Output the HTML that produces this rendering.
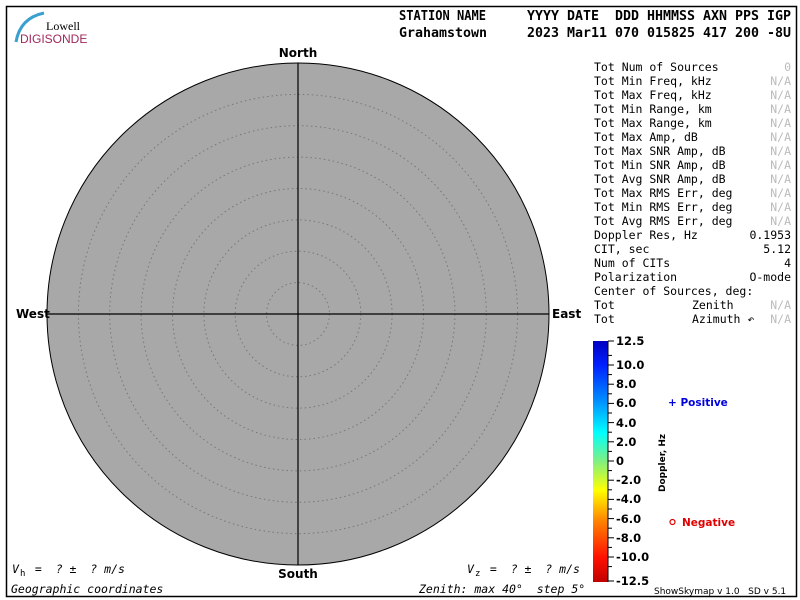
<!DOCTYPE html>
<html><head><meta charset="utf-8"><style>
body{margin:0;background:#fff}
svg{display:block}
text{white-space:pre}
.m{font-family:"DejaVu Sans Mono","Liberation Mono",monospace}
.b{font-family:"DejaVu Sans","Liberation Sans",sans-serif;font-weight:bold}
</style></head><body>
<svg width="800" height="600" viewBox="0 0 800 600" xmlns="http://www.w3.org/2000/svg" xml:space="preserve">
<defs>
<linearGradient id="cb" x1="0" y1="1" x2="0" y2="0">
<stop offset="0" stop-color="#c00000"/>
<stop offset="0.1" stop-color="#ff1000"/>
<stop offset="0.25" stop-color="#ff8000"/>
<stop offset="0.38" stop-color="#ffff00"/>
<stop offset="0.5" stop-color="#80f080"/>
<stop offset="0.62" stop-color="#00ffff"/>
<stop offset="0.75" stop-color="#0090ff"/>
<stop offset="0.9" stop-color="#0020ff"/>
<stop offset="1" stop-color="#0000c0"/>
</linearGradient>
</defs>
<rect x="6.5" y="6.5" width="790" height="590" fill="#fff" stroke="#000" stroke-width="1.5"/>
<path d="M16 42 Q20 18 44 13" fill="none" stroke="#3aa0d0" stroke-width="3"/>
<text x="80" y="30" font-family="Liberation Serif,serif" font-size="12" text-anchor="end">Lowell</text>
<text x="20" y="43" font-family="Liberation Sans,sans-serif" font-size="12" fill="#a0285a">DIGISONDE</text>
<g class="m" font-size="13" font-weight="bold">
<text x="399" y="20" textLength="87" lengthAdjust="spacingAndGlyphs">STATION NAME</text>
<text x="527" y="20" textLength="264" lengthAdjust="spacingAndGlyphs">YYYY DATE  DDD HHMMSS AXN PPS IGP</text>
<text x="399" y="37" textLength="88" lengthAdjust="spacingAndGlyphs">Grahamstown</text>
<text x="527" y="37" textLength="264" lengthAdjust="spacingAndGlyphs">2023 Mar11 070 015825 417 200 -8U</text>
</g>
<circle cx="298" cy="314" r="251" fill="#a8a8a8" stroke="#000" stroke-width="1"/>
<g fill="none" stroke="#777" stroke-width="1" stroke-dasharray="1.5,3">
<circle cx="298" cy="314" r="31.4"/><circle cx="298" cy="314" r="62.8"/>
<circle cx="298" cy="314" r="94.1"/><circle cx="298" cy="314" r="125.5"/>
<circle cx="298" cy="314" r="156.9"/><circle cx="298" cy="314" r="188.3"/>
<circle cx="298" cy="314" r="219.6"/>
</g>
<line x1="298" y1="63" x2="298" y2="565" stroke="#000" stroke-width="1.2"/>
<line x1="47" y1="314" x2="549" y2="314" stroke="#000" stroke-width="1.2"/>
<g class="b" font-size="12">
<text x="298" y="57" text-anchor="middle">North</text>
<text x="298" y="578" text-anchor="middle">South</text>
<text x="16" y="318">West</text>
<text x="552" y="318">East</text>
</g>
<g class="m" font-size="11.5">
<g>
<text x="594" y="71">Tot Num of Sources</text>
<text x="594" y="85">Tot Min Freq, kHz</text>
<text x="594" y="99">Tot Max Freq, kHz</text>
<text x="594" y="113">Tot Min Range, km</text>
<text x="594" y="127">Tot Max Range, km</text>
<text x="594" y="141">Tot Max Amp, dB</text>
<text x="594" y="155">Tot Max SNR Amp, dB</text>
<text x="594" y="169">Tot Min SNR Amp, dB</text>
<text x="594" y="183">Tot Avg SNR Amp, dB</text>
<text x="594" y="197">Tot Max RMS Err, deg</text>
<text x="594" y="211">Tot Min RMS Err, deg</text>
<text x="594" y="225">Tot Avg RMS Err, deg</text>
<text x="594" y="239">Doppler Res, Hz</text>
<text x="594" y="253">CIT, sec</text>
<text x="594" y="267">Num of CITs</text>
<text x="594" y="281">Polarization</text>
<text x="594" y="295">Center of Sources, deg:</text>
<text x="594" y="309">Tot</text>
<text x="594" y="323">Tot</text>
<text x="692" y="309">Zenith</text>
<text x="692" y="323">Azimuth ↶</text>
</g>
<g text-anchor="end">
<g fill="#bbb">
<text x="791" y="71">0</text><text x="791" y="85">N/A</text><text x="791" y="99">N/A</text>
<text x="791" y="113">N/A</text><text x="791" y="127">N/A</text><text x="791" y="141">N/A</text>
<text x="791" y="155">N/A</text><text x="791" y="169">N/A</text><text x="791" y="183">N/A</text>
<text x="791" y="197">N/A</text><text x="791" y="211">N/A</text><text x="791" y="225">N/A</text>
<text x="791" y="309">N/A</text><text x="791" y="323">N/A</text>
</g>
<text x="791" y="239">0.1953</text><text x="791" y="253">5.12</text>
<text x="791" y="267">4</text><text x="791" y="281">O-mode</text>
</g>
</g>
<rect x="593" y="341" width="15" height="241" fill="url(#cb)"/>
<g stroke="#000" stroke-width="1">
<line x1="608" y1="341" x2="608" y2="582"/>
<line x1="608" y1="341" x2="614" y2="341"/><line x1="608" y1="365" x2="614" y2="365"/>
<line x1="608" y1="384.2" x2="614" y2="384.2"/><line x1="608" y1="403.4" x2="614" y2="403.4"/>
<line x1="608" y1="422.6" x2="614" y2="422.6"/><line x1="608" y1="441.8" x2="614" y2="441.8"/>
<line x1="608" y1="461" x2="614" y2="461"/><line x1="608" y1="480.2" x2="614" y2="480.2"/>
<line x1="608" y1="499.4" x2="614" y2="499.4"/><line x1="608" y1="518.6" x2="614" y2="518.6"/>
<line x1="608" y1="537.8" x2="614" y2="537.8"/><line x1="608" y1="557" x2="614" y2="557"/>
<line x1="608" y1="581" x2="614" y2="581"/>
<line x1="608" y1="355.4" x2="612" y2="355.4"/><line x1="608" y1="374.6" x2="612" y2="374.6"/>
<line x1="608" y1="393.8" x2="612" y2="393.8"/><line x1="608" y1="413" x2="612" y2="413"/>
<line x1="608" y1="432.2" x2="612" y2="432.2"/><line x1="608" y1="451.4" x2="612" y2="451.4"/>
<line x1="608" y1="470.6" x2="612" y2="470.6"/><line x1="608" y1="489.8" x2="612" y2="489.8"/>
<line x1="608" y1="509" x2="612" y2="509"/><line x1="608" y1="528.2" x2="612" y2="528.2"/>
<line x1="608" y1="547.4" x2="612" y2="547.4"/><line x1="608" y1="566.6" x2="612" y2="566.6"/>
</g>
<g class="b" font-size="11.5">
<text x="616" y="345">12.5</text><text x="616" y="369">10.0</text>
<text x="616" y="388">8.0</text><text x="616" y="407">6.0</text>
<text x="616" y="427">4.0</text><text x="616" y="446">2.0</text>
<text x="616" y="465">0</text><text x="616" y="484">-2.0</text>
<text x="616" y="503">-4.0</text><text x="616" y="523">-6.0</text>
<text x="616" y="542">-8.0</text><text x="616" y="561">-10.0</text>
<text x="616" y="585">-12.5</text>
</g>
<text class="b" font-size="9" transform="translate(665,492) rotate(-90)">Doppler, Hz</text>
<text class="b" font-size="10.5" x="668" y="406" fill="#0000dd">+ Positive</text>
<circle cx="672.5" cy="522" r="2.5" fill="none" stroke="#e00000" stroke-width="1.2"/>
<text class="b" font-size="10.5" x="682" y="526" fill="#e00000">Negative</text>
<text font-family="DejaVu Sans,sans-serif" font-size="9" x="654" y="594">ShowSkymap v 1.0   SD v 5.1</text>
<g class="m" font-size="11.5" font-style="italic">
<text x="12" y="573">V</text><text x="20" y="576" font-size="9" font-style="normal">h</text>
<text x="28" y="573"> =  ? ±  ? m/s</text>
<text x="467" y="573">V</text><text x="475" y="576" font-size="9" font-style="normal">z</text>
<text x="483" y="573"> =  ? ±  ? m/s</text>
<text x="11" y="593">Geographic coordinates</text>
<text x="419" y="593">Zenith: max 40°  step 5°</text>
</g>
</svg>
</body></html>
